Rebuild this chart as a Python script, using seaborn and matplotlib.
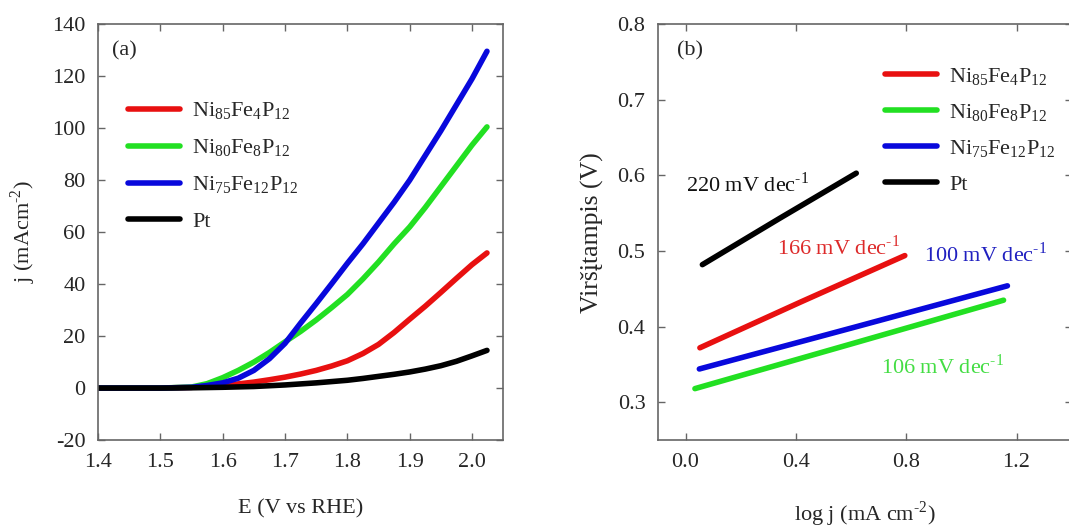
import numpy as np
import pandas as pd
import matplotlib
matplotlib.use("Agg")
import matplotlib.pyplot as plt
import seaborn as sns
from matplotlib.lines import Line2D

# --- data ---
samples = ["Ni85Fe4P12", "Ni80Fe8P12", "Ni75Fe12P12", "Pt"]
labels = [r"$\mathregular{Ni_{85}Fe_{4}P_{12}}$",
          r"$\mathregular{Ni_{80}Fe_{8}P_{12}}$",
          r"$\mathregular{Ni_{75}Fe_{12}P_{12}}$",
          "Pt"]
colors = ["#e81010", "#22e022", "#0808dc", "#000000"]

# (a) polarisation curves
E = [1.40, 1.50, 1.55, 1.575, 1.60, 1.625, 1.65, 1.675, 1.70, 1.725, 1.75,
     1.775, 1.80, 1.825, 1.85, 1.875, 1.90, 1.925, 1.95, 1.975, 2.00, 2.024]
j_ni85 = [0.0, 0.0, 0.3, 0.6, 1.0, 1.6, 2.3, 3.2, 4.2, 5.4, 6.8,
          8.5, 10.5, 13.3, 16.8, 21.4, 26.5, 31.5, 36.8, 42.2, 47.5, 52.0]
j_ni80 = [0.0, 0.0, 0.4, 1.7, 4.0, 6.8, 10.0, 13.7, 17.8, 21.8, 26.2,
          31.0, 36.0, 42.0, 48.5, 55.5, 62.0, 69.5, 77.5, 85.5, 93.5, 100.5]
j_ni75 = [0.0, 0.0, 0.3, 1.0, 2.0, 3.8, 6.8, 11.3, 17.2, 25.0, 32.5,
          40.2, 48.0, 55.5, 63.5, 71.5, 80.0, 89.5, 99.0, 109.0, 119.0, 129.6]
j_pt = [0.0, 0.0, 0.1, 0.2, 0.3, 0.45, 0.6, 0.9, 1.2, 1.6, 2.0,
        2.5, 3.0, 3.7, 4.5, 5.3, 6.2, 7.3, 8.6, 10.3, 12.4, 14.5]

# (b) Tafel lines
tafel_x = {
    "Ni85Fe4P12": [0.052, 0.42, 0.795],
    "Ni80Fe8P12": [0.034, 0.59, 1.153],
    "Ni75Fe12P12": [0.050, 0.61, 1.167],
    "Pt": [0.061, 0.34, 0.619],
}
tafel_y = {
    "Ni85Fe4P12": [0.372, 0.433, 0.494],
    "Ni80Fe8P12": [0.318, 0.376, 0.435],
    "Ni75Fe12P12": [0.344, 0.399, 0.454],
    "Pt": [0.482, 0.543, 0.603],
}
slopes = ["166 mV dec$^{\\mathregular{‐1}}$", "106 mV dec$^{\\mathregular{‐1}}$",
          "100 mV dec$^{\\mathregular{‐1}}$", "220 mV dec$^{\\mathregular{‐1}}$"]
slope_colors = ["#dd2a2a", "#44dd44", "#2020c0", "#111111"]

sns.set_theme(style="ticks")
plt.rcParams["font.family"] = ["Liberation Serif", "DejaVu Serif"]
plt.rcParams["mathtext.fontset"] = "custom"
plt.rcParams["mathtext.rm"] = "Liberation Serif"
plt.rcParams["axes.unicode_minus"] = False

df_a = pd.concat([pd.DataFrame({"E": E, "j": j, "sample": s})
                  for s, j in zip(samples, [j_ni85, j_ni80, j_ni75, j_pt])])
df_b = pd.concat([pd.DataFrame({"x": tafel_x[s], "y": tafel_y[s], "sample": s})
                  for s in samples])

pal = dict(zip(samples, colors))
fig = plt.figure(figsize=(10.69, 5.27), dpi=100)
ax1 = fig.add_axes([0.0917, 0.165, 0.379, 0.789])
ax2 = fig.add_axes([0.6155, 0.165, 0.387, 0.789])

sns.lineplot(data=df_a, x="E", y="j", hue="sample", palette=pal, lw=4,
             ax=ax1, legend=False, solid_capstyle="round", solid_joinstyle="round")
sns.lineplot(data=df_b, x="x", y="y", hue="sample", palette=pal, lw=4,
             ax=ax2, legend=False, solid_capstyle="round", solid_joinstyle="round")

fs = 16
for ax in (ax1, ax2):
    for sp in ax.spines.values():
        sp.set_color("#666666")
        sp.set_linewidth(1.2)
    ax.tick_params(direction="in", length=5, width=1, color="#666666",
                   top=True, right=True, labelsize=fs, pad=9)

ax1.set_xlim(1.4, 2.05)
ax1.set_ylim(-20, 140)
ax1.set_xticks(np.arange(1.4, 2.01, 0.1))
ax1.set_xticklabels([f"{v:.1f}" for v in np.arange(1.4, 2.01, 0.1)])
ax1.set_yticks(range(-20, 141, 20))
ax1.set_xlabel("E (V vs RHE)", fontsize=fs, labelpad=20)
ax1.set_ylabel("j (mAcm$^{\\mathregular{‐2}}$)", fontsize=fs, labelpad=10)
ax1.text(0.035, 0.935, "(a)", transform=ax1.transAxes, fontsize=fs, va="center")

ax2.set_xlim(-0.1, 1.4)
ax2.set_ylim(0.25, 0.8)
ax2.set_xticks([0.0, 0.4, 0.8, 1.2])
ax2.set_xticklabels(["0.0", "0.4", "0.8", "1.2"])
ax2.set_yticks([0.3, 0.4, 0.5, 0.6, 0.7, 0.8])
ax2.set_yticklabels(["0.3", "0.4", "0.5", "0.6", "0.7", "0.8"])
ax2.set_xlabel("log j (mA cm$^{\\mathregular{‐2}}$)", fontsize=fs, labelpad=20)
ax2.set_ylabel("Viršįtampis (V)", fontsize=18.5, labelpad=10)
ax2.text(0.045, 0.935, "(b)", transform=ax2.transAxes, fontsize=fs, va="center")

slope_pos = [(0.33, 0.505), (0.71, 0.347), (0.865, 0.495), (0.0, 0.588)]
for txt, c, (x, y) in zip(slopes, slope_colors, slope_pos):
    ax2.text(x, y, txt, color=c, fontsize=fs, va="center")

handles = [Line2D([], [], color=c, lw=4, solid_capstyle="round") for c in colors]
ax1.legend(handles, labels, loc="upper left", bbox_to_anchor=(0.025, 0.865),
           frameon=False, fontsize=fs, handlelength=2.35, handletextpad=0.54,
           labelspacing=0.72)
ax2.legend(handles, labels, loc="upper left", bbox_to_anchor=(0.50, 0.948),
           frameon=False, fontsize=fs, handlelength=2.35, handletextpad=0.54,
           labelspacing=0.68)

fig.savefig("out.png", dpi=100)
